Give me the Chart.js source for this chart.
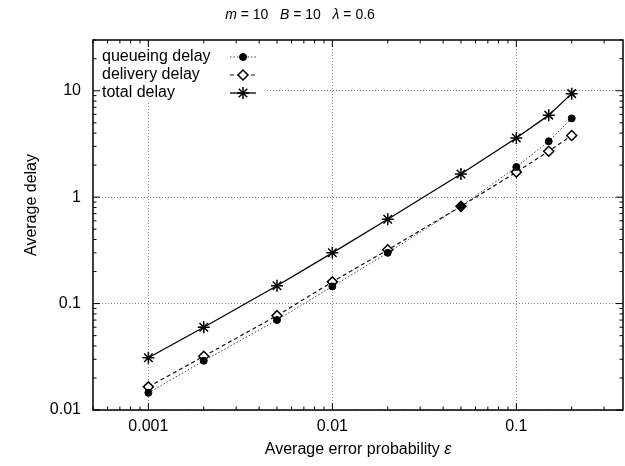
<!DOCTYPE html>
<html>
<head>
<meta charset="utf-8">
<script src="https://cdn.jsdelivr.net/npm/chart.js@4.4.0/dist/chart.umd.min.js"></script>
<style>
  html, body { margin: 0; padding: 0; background: #fff; }
</style>
</head>
<body>
<canvas id="chart" width="625" height="466"></canvas>
<script>
// Datos
const epsilon = [0.001, 0.002, 0.005, 0.01, 0.02, 0.05, 0.1, 0.15, 0.2];
const queueingDelay = [0.0145, 0.029, 0.070, 0.145, 0.30, 0.82, 1.92, 3.35, 5.5];
const deliveryDelay = [0.0165, 0.032, 0.077, 0.160, 0.32, 0.82, 1.72, 2.7, 3.8];
const totalDelay = [0.031, 0.060, 0.147, 0.30, 0.62, 1.65, 3.6, 5.9, 9.4];

const xTickValues = [0.001, 0.01, 0.1];
const yTickValues = [0.01, 0.1, 1, 10];
const seriesLabels = ['queueing delay', 'delivery delay', 'total delay'];

const FONT = '"Liberation Sans", Arial, Helvetica, sans-serif';

function toPoints(values) {
    return epsilon.map((e, i) => ({ x: e, y: values[i] }));
}

// Marco, marcas interiores, títulos y leyenda al estilo gnuplot
const decorPlugin = {
    id: 'decor',
    beforeDatasetsDraw(chart) {
        // fondo blanco de la leyenda (tapa la rejilla)
        const ctx = chart.ctx;
        ctx.save();
        ctx.fillStyle = '#fff';
        ctx.fillRect(chart.chartArea.left + 1, chart.chartArea.top + 1, 172, 60);
        ctx.restore();
    },
    afterDraw(chart) {
        const ctx = chart.ctx;
        const { left, right, top, bottom } = chart.chartArea;
        const xs = chart.scales.x;
        const ys = chart.scales.y;

        ctx.save();
        ctx.strokeStyle = '#000';
        ctx.lineWidth = 1.5;
        ctx.strokeRect(left, top, right - left, bottom - top);

        // marcas mayores y menores hacia dentro
        ctx.lineWidth = 1;
        ctx.beginPath();
        for (let d = -4; d <= 1; d++) {
            for (let k = 1; k <= 9; k++) {
                const v = k * Math.pow(10, d);
                const len = k === 1 ? 7 : 3.5;
                if (v >= xs.min && v <= xs.max) {
                    const px = xs.getPixelForValue(v);
                    ctx.moveTo(px, bottom); ctx.lineTo(px, bottom - len);
                    ctx.moveTo(px, top); ctx.lineTo(px, top + len);
                }
                if (v >= ys.min && v <= ys.max) {
                    const py = ys.getPixelForValue(v);
                    ctx.moveTo(left, py); ctx.lineTo(left + len, py);
                    ctx.moveTo(right, py); ctx.lineTo(right - len, py);
                }
            }
        }
        ctx.stroke();

        // título con variables en cursiva
        const parts = [
            ['italic', 'm'], ['normal', ' = 10   '],
            ['italic', 'B'], ['normal', ' = 10   '],
            ['italic', 'λ'], ['normal', ' = 0.6']
        ];
        ctx.fillStyle = '#000';
        ctx.textBaseline = 'middle';
        let total = 0;
        parts.forEach(p => {
            ctx.font = p[0] + ' 14px ' + FONT;
            total += ctx.measureText(p[1]).width;
        });
        let tx = 300 - total / 2;
        ctx.textAlign = 'left';
        parts.forEach(p => {
            ctx.font = p[0] + ' 14px ' + FONT;
            ctx.fillText(p[1], tx, 15);
            tx += ctx.measureText(p[1]).width;
        });

        // títulos de los ejes
        ctx.font = '16px ' + FONT;
        const xTitle = 'Average error probability ';
        const xw = ctx.measureText(xTitle).width;
        ctx.font = 'italic 16px ' + FONT;
        const ew = ctx.measureText('ε').width;
        let ax = (left + right) / 2 - (xw + ew) / 2;
        ctx.font = '16px ' + FONT;
        ctx.fillText(xTitle, ax, 450);
        ctx.font = 'italic 16px ' + FONT;
        ctx.fillText('ε', ax + xw, 450);

        ctx.save();
        ctx.translate(32, 205);
        ctx.rotate(-Math.PI / 2);
        ctx.font = '16px ' + FONT;
        ctx.textAlign = 'center';
        ctx.fillText('Average delay', 0, 0);
        ctx.restore();

        // leyenda dentro del área
        const rowY = [57, 75, 93];
        chart.data.datasets.forEach((ds, i) => {
            const y = rowY[i];
            ctx.font = '16px ' + FONT;
            ctx.textAlign = 'left';
            ctx.fillStyle = '#000';
            ctx.fillText(seriesLabels[i], 102, y);
            ctx.save();
            ctx.strokeStyle = ds.borderColor;
            ctx.lineWidth = ds.borderWidth;
            ctx.setLineDash(ds.borderDash || []);
            ctx.beginPath();
            ctx.moveTo(230, y); ctx.lineTo(256, y);
            ctx.stroke();
            ctx.restore();
            ctx.save();
            ctx.fillStyle = ds.pointBackgroundColor;
            ctx.strokeStyle = ds.pointBorderColor;
            ctx.lineWidth = ds.pointBorderWidth;
            Chart.helpers.drawPoint(ctx, { pointStyle: ds.pointStyle, radius: ds.pointRadius, borderWidth: ds.pointBorderWidth, rotation: 0 }, 243, y);
            ctx.restore();
        });
        ctx.restore();
    }
};

new Chart(document.getElementById('chart').getContext('2d'), {
    type: 'line',
    data: {
        datasets: [
            {
                label: seriesLabels[0],
                data: toPoints(queueingDelay),
                borderColor: '#444',
                borderWidth: 1,
                borderDash: [1.5, 2],
                pointStyle: 'circle',
                pointRadius: 3.5,
                pointBackgroundColor: '#000',
                pointBorderColor: '#000',
                pointBorderWidth: 1
            },
            {
                label: seriesLabels[1],
                data: toPoints(deliveryDelay),
                borderColor: '#111',
                borderWidth: 1.2,
                borderDash: [4, 3],
                pointStyle: 'rectRot',
                pointRadius: 5,
                pointBackgroundColor: '#fff',
                pointBorderColor: '#000',
                pointBorderWidth: 1.5
            },
            {
                label: seriesLabels[2],
                data: toPoints(totalDelay),
                borderColor: '#000',
                borderWidth: 1.3,
                pointStyle: 'star',
                pointRadius: 6,
                pointBackgroundColor: '#000',
                pointBorderColor: '#000',
                pointBorderWidth: 1.5
            }
        ]
    },
    options: {
        responsive: false,
        animation: false,
        devicePixelRatio: 1,
        layout: { autoPadding: false, padding: { top: 40, right: 2, left: 0, bottom: 0 } },
        plugins: {
            legend: { display: false },
            title: { display: false },
            tooltip: { enabled: false }
        },
        scales: {
            x: {
                type: 'logarithmic',
                min: 0.0005,
                max: 0.38,
                afterBuildTicks: scale => { scale.ticks = xTickValues.map(v => ({ value: v })); },
                afterFit: scale => {
                    scale.height = 56;
                    scale.paddingLeft = 0;
                    scale.paddingRight = 0;
                },
                ticks: {
                    color: '#000',
                    font: { family: FONT, size: 16 },
                    padding: 7,
                    maxRotation: 0,
                    callback: value => String(value)
                },
                grid: { color: '#888', lineWidth: 1, drawTicks: false },
                border: { display: false, dash: [1, 2] }
            },
            y: {
                type: 'logarithmic',
                min: 0.01,
                max: 30,
                afterBuildTicks: scale => { scale.ticks = yTickValues.map(v => ({ value: v })); },
                afterFit: scale => {
                    scale.width = 93;
                    scale.paddingTop = 0;
                    scale.paddingBottom = 0;
                },
                ticks: {
                    color: '#000',
                    font: { family: FONT, size: 16 },
                    padding: 12,
                    callback: value => String(value)
                },
                grid: { color: '#888', lineWidth: 1, drawTicks: false },
                border: { display: false, dash: [1, 2] }
            }
        }
    },
    plugins: [decorPlugin]
});
</script>
</body>
</html>
